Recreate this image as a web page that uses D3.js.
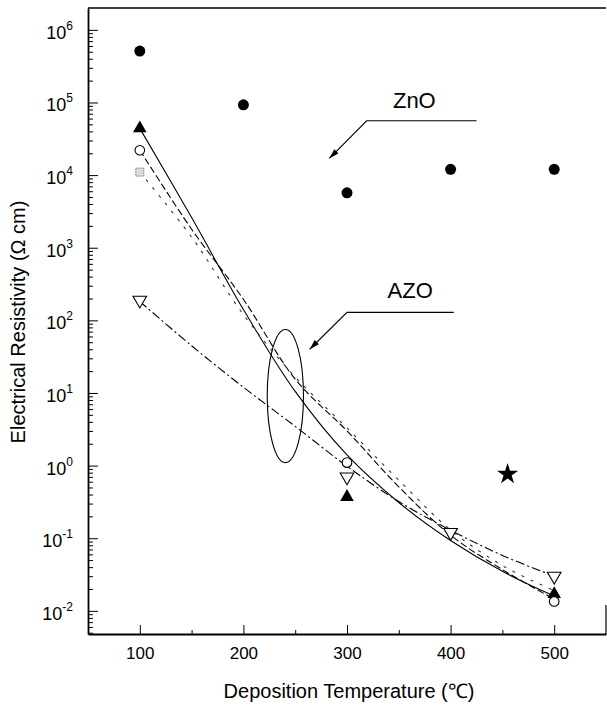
<!DOCTYPE html>
<html>
<head>
<meta charset="utf-8">
<script src="https://cdn.jsdelivr.net/npm/d3@7/dist/d3.min.js"></script>
<style>
  body { margin: 0; background: #fff; }
  svg { font-family: "Liberation Sans", Arial, sans-serif; }
  .domain { stroke-width: 1.8; }
</style>
</head>
<body>
<svg id="chart" width="607" height="707"></svg>
<script>
// measured points (deposition temperature in C, resistivity in ohm cm)
const temps      = [100, 200, 300, 400, 500];
const zno_rho    = [5.1e5, 9.3e4, 5.7e3, 1.2e4, 1.2e4];

const up_t       = [100, 300, 500];
const up_rho     = [4.4e4, 0.37, 0.017];
const circ_t     = [100, 300, 500];
const circ_rho   = [2.2e4, 1.1, 0.0135];
const sq_t       = [100];
const sq_rho     = [1.1e4];
const down_t     = [100, 300, 400, 500];
const down_rho   = [190, 0.7, 0.12, 0.030];
const star_t     = [455];
const star_rho   = [0.76];

// fitted curves
const fit_t      = [100, 150, 200, 250, 300, 350, 400, 450, 500];
const fit_up     = [4.4e4, 2.6e3, 141, 10.5, 1.4, 0.31, 0.093, 0.035, 0.016];
const fit_circ   = [2.2e4, 1.8e3, 195, 15.5, 3.0, 0.51, 0.11, 0.037, 0.0145];
const fit_sq     = [1.1e4, 1.4e3, 120, 16.6, 3.3, 0.63, 0.13, 0.042, 0.019];
const fit_down   = [182, 44.7, 12.0, 3.47, 0.98, 0.32, 0.129, 0.058, 0.030];

const x_ticks    = [100, 200, 300, 400, 500];
const x_minor    = [150, 250, 350, 450];
const y_exps     = [-2, -1, 0, 1, 2, 3, 4, 5, 6];

// annotations: [T, rho]
const zno_label  = [365, 8.5e4];
const zno_arrow  = [[425, 5.6e4], [319, 5.6e4], [283, 1.7e4]];
const azo_label  = [361, 205];
const azo_arrow  = [[403, 129], [300, 129], [264, 40]];
const ellipse_t  = [223, 258];
const ellipse_r  = [1.1, 75];

const svg = d3.select("#chart");

const x = d3.scaleLinear().domain([50, 550]).range([88, 606]);
const y = d3.scaleLog().domain([4.8e-3, 2e6]).range([634, 8]);

const pts = (ts, rs) => ts.map((t, i) => [t, rs[i]]);

// frame
svg.append("line")
   .attr("x1", x.range()[0]).attr("x2", x.range()[1])
   .attr("y1", y.range()[1]).attr("y2", y.range()[1])
   .attr("stroke", "#000").attr("stroke-width", 1.5);
svg.append("line")
   .attr("x1", x.range()[1]).attr("x2", x.range()[1])
   .attr("y1", y(0.012)).attr("y2", y.range()[0])
   .attr("stroke", "#000").attr("stroke-width", 1.2);

// x axis
svg.append("g")
   .attr("transform", "translate(0," + y.range()[0] + ")")
   .call(d3.axisBottom(x).tickValues(x_ticks).tickSize(-9).tickSizeOuter(0).tickPadding(13))
   .call(g => g.selectAll("text").attr("font-size", 17).attr("font-family", "Liberation Sans, Arial"));
svg.append("g")
   .attr("transform", "translate(0," + y.range()[0] + ")")
   .call(d3.axisBottom(x).tickValues(x_minor).tickSize(-4).tickSizeOuter(0).tickFormat(""))
   .call(g => g.select(".domain").remove());

// y axis
let y_minor = [];
for (let e = -3; e <= 6; e++) {
	for (let m = 2; m <= 9; m++) {
		let v = m * Math.pow(10, e);
		if (v > y.domain()[0] && v < y.domain()[1]) y_minor.push(v);
	}
}
svg.append("g")
   .attr("transform", "translate(" + x.range()[0] + ",0)")
   .call(d3.axisLeft(y).tickValues(y_exps.map(e => Math.pow(10, e))).tickSize(-10).tickSizeOuter(0).tickFormat(""));
svg.append("g")
   .attr("transform", "translate(" + x.range()[0] + ",0)")
   .call(d3.axisLeft(y).tickValues(y_minor).tickSize(-5).tickSizeOuter(0).tickFormat(""))
   .call(g => g.select(".domain").remove());

let ylab = svg.append("g").selectAll("text")
   .data(y_exps)
   .join("text")
   .attr("x", 73)
   .attr("y", d => y(Math.pow(10, d)) + 9)
   .attr("text-anchor", "end")
   .attr("font-size", 18);
ylab.text("10");
ylab.append("tspan")
    .attr("dy", -9)
    .attr("font-size", 12)
    .text(d => String(d));

// axis titles
svg.append("text")
   .attr("x", 349).attr("y", 698)
   .attr("text-anchor", "middle")
   .attr("font-size", 20)
   .text("Deposition Temperature (\u2103)");
svg.append("text")
   .attr("transform", "translate(25,322) rotate(-90)")
   .attr("text-anchor", "middle")
   .attr("font-size", 20)
   .text("Electrical Resistivity (\u03A9 cm)");

// fit curves
const line = d3.line().x(d => x(d[0])).y(d => y(d[1])).curve(d3.curveCatmullRom);

const fits = [
	{data: fit_up,   dash: null,        color: "#000"},
	{data: fit_circ, dash: "7,3",       color: "#000"},
	{data: fit_sq,   dash: "3,7",       color: "#333"},
	{data: fit_down, dash: "9,3,2,3",   color: "#000"}
];
svg.append("g").selectAll("path")
   .data(fits)
   .join("path")
   .attr("d", d => line(pts(fit_t, d.data)))
   .attr("fill", "none")
   .attr("stroke", d => d.color)
   .attr("stroke-width", 1.1)
   .attr("stroke-dasharray", d => d.dash);

// markers
const sym = d3.symbol();
svg.append("g").selectAll("circle")
   .data(pts(temps, zno_rho))
   .join("circle")
   .attr("cx", d => x(d[0])).attr("cy", d => y(d[1])).attr("r", 5.5)
   .attr("fill", "#000");

svg.append("g").selectAll("path")
   .data(pts(up_t, up_rho))
   .join("path")
   .attr("transform", d => "translate(" + x(d[0]) + "," + y(d[1]) + ")")
   .attr("d", sym.type(d3.symbolTriangle).size(80)())
   .attr("fill", "#000");

svg.append("g").selectAll("circle")
   .data(pts(circ_t, circ_rho))
   .join("circle")
   .attr("cx", d => x(d[0])).attr("cy", d => y(d[1])).attr("r", 4.8)
   .attr("fill", "#fff").attr("stroke", "#000").attr("stroke-width", 1.1);

svg.append("g").selectAll("rect")
   .data(pts(sq_t, sq_rho))
   .join("rect")
   .attr("x", d => x(d[0]) - 4).attr("y", d => y(d[1]) - 4)
   .attr("width", 8).attr("height", 8)
   .attr("fill", "#ddd").attr("stroke", "#777").attr("stroke-width", 1)
   .attr("stroke-dasharray", "1.5,1");

svg.append("g").selectAll("path")
   .data(pts(down_t, down_rho))
   .join("path")
   .attr("transform", d => "translate(" + x(d[0]) + "," + y(d[1]) + ") rotate(180)")
   .attr("d", sym.type(d3.symbolTriangle).size(80)())
   .attr("fill", "#fff").attr("stroke", "#000").attr("stroke-width", 1.1);

svg.append("g").selectAll("path")
   .data(pts(star_t, star_rho))
   .join("path")
   .attr("transform", d => "translate(" + x(d[0]) + "," + y(d[1]) + ")")
   .attr("d", sym.type(d3.symbolStar).size(140)())
   .attr("fill", "#000");

// annotations
svg.append("defs").append("marker")
   .attr("id", "arrow")
   .attr("viewBox", "0 0 10 6")
   .attr("refX", 10).attr("refY", 3)
   .attr("markerWidth", 12).attr("markerHeight", 6)
   .attr("markerUnits", "userSpaceOnUse")
   .attr("orient", "auto")
   .append("path")
   .attr("d", "M0,0L10,3L0,6Z")
   .attr("fill", "#000");

const arrow_line = d3.line().x(d => x(d[0])).y(d => y(d[1]));
[zno_arrow, azo_arrow].forEach(a => {
	svg.append("path")
	   .attr("d", arrow_line(a))
	   .attr("fill", "none")
	   .attr("stroke", "#000")
	   .attr("stroke-width", 1.1)
	   .attr("marker-end", "url(#arrow)");
});

svg.append("text")
   .attr("x", x(zno_label[0])).attr("y", y(zno_label[1]))
   .attr("text-anchor", "middle").attr("font-size", 22)
   .text("ZnO");
svg.append("text")
   .attr("x", x(azo_label[0])).attr("y", y(azo_label[1]))
   .attr("text-anchor", "middle").attr("font-size", 22)
   .text("AZO");

svg.append("ellipse")
   .attr("cx", (x(ellipse_t[0]) + x(ellipse_t[1])) / 2)
   .attr("cy", (y(ellipse_r[0]) + y(ellipse_r[1])) / 2)
   .attr("rx", (x(ellipse_t[1]) - x(ellipse_t[0])) / 2)
   .attr("ry", (y(ellipse_r[0]) - y(ellipse_r[1])) / 2)
   .attr("fill", "none")
   .attr("stroke", "#000")
   .attr("stroke-width", 1.1);
</script>
</body>
</html>
